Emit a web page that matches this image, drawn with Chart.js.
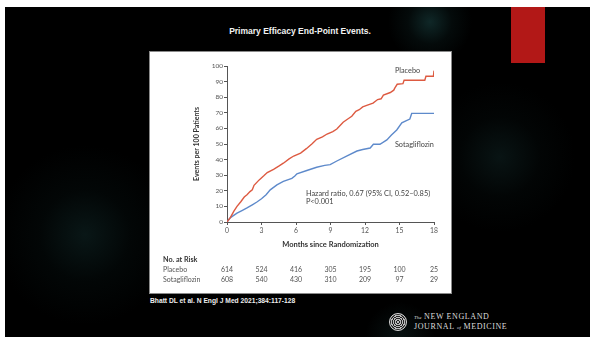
<!DOCTYPE html>
<html>
<head>
<meta charset="utf-8">
<script src="https://cdn.jsdelivr.net/npm/chart.js@4/dist/chart.umd.min.js"></script>
<style>
  html, body { margin: 0; padding: 0; background: #fff; width: 590px; height: 337px; overflow: hidden; }
  #slide {
    position: absolute; left: 5px; top: 7px; width: 585px; height: 330px;
    background:
      radial-gradient(circle at 425px 15px, rgba(18,46,46,0.85) 0, rgba(10,26,26,0.4) 22px, rgba(0,0,0,0) 42px),
      radial-gradient(circle at 80px 228px, rgba(12,30,30,0.75) 0, rgba(6,16,16,0.4) 45px, rgba(0,0,0,0) 90px),
      radial-gradient(circle at 495px 150px, rgba(12,28,28,0.7) 0, rgba(6,14,14,0.35) 40px, rgba(0,0,0,0) 75px),
      radial-gradient(circle at 395px 330px, rgba(12,28,28,0.6) 0, rgba(0,0,0,0) 35px),
      #000;
  }
  #redbar { position: absolute; left: 511px; top: 7px; width: 34px; height: 56px; background: #b21817; }
  #title {
    position: absolute; left: 0; width: 600px; top: 26px; text-align: center;
    font: bold 8.5px "Liberation Sans", Arial, sans-serif; color: #f2f2f2;
  }
  #panel {
    position: absolute; left: 149px; top: 51px; width: 301px; height: 241px;
    border: 1px solid #8a8a8a; background: #fff;
  }
  #panel canvas { display: block; }
  #cite {
    position: absolute; left: 150px; top: 297px;
    font: bold 6.7px "Liberation Sans", Arial, sans-serif; color: #eee; white-space: nowrap;
  }
  #seal {
    position: absolute; left: 389px; top: 313px; width: 16px; height: 16px; border-radius: 50%;
    border: 1px solid #d8d8d8;
    background: repeating-radial-gradient(circle at 50% 50%, #bbb 0, #bbb 1px, #222 1px, #222 2px);
  }
  #nejm {
    position: absolute; left: 414px; top: 312px; color: #ddd;
    font: 8px "Liberation Serif", "DejaVu Serif", serif; letter-spacing: 0.6px; line-height: 9px; white-space: nowrap;
  }
  #nejm i { font-size: 5px; letter-spacing: 0; }
</style>
</head>
<body>
<div id="slide"></div>
<div id="redbar"></div>
<div id="title">Primary Efficacy End-Point Events.</div>
<div id="panel"><canvas id="chart" width="301" height="241"></canvas></div>
<div id="cite">Bhatt DL et al. N Engl J Med 2021;384:117-128</div>
<div id="seal"></div>
<div id="nejm"><i>The</i> NEW ENGLAND<br>JOURNAL <i>of</i> MEDICINE</div>
<script>
// Cumulative events per 100 patients, by months since randomization
const placeboMonths = [0, 0.3, 0.6, 0.87, 1.2, 1.5, 1.74, 2.0, 2.2, 2.35, 2.8, 3.2, 3.5, 4.05, 4.5, 4.9, 5.4, 5.8, 6.4, 6.9, 7.4, 7.8, 8.3, 8.7, 9.2, 9.55, 10.1, 10.5, 10.85, 11.2, 11.5, 11.8, 12.15, 12.7, 13.1, 13.4, 13.6, 14.2, 14.5, 14.6, 14.8, 15.3, 15.4, 17.2, 17.3, 17.95, 18];
const placeboEvents = [0, 3, 7, 10, 13, 16, 17.5, 19.5, 20.6, 23.5, 27, 29.6, 31.7, 33.8, 35.8, 37.7, 40.5, 42.3, 44.2, 47, 50.2, 53, 54.6, 56.4, 58, 59.6, 64, 66, 67.8, 71, 72, 73.8, 74.8, 76.2, 78.5, 79, 81.3, 83, 84.5, 86, 88.3, 88.7, 90.9, 90.9, 93.4, 93.4, 97];

const sotaMonths = [0, 0.3, 0.87, 1.3, 1.74, 2.2, 2.6, 3.0, 3.4, 3.76, 4.34, 4.9, 5.64, 5.9, 6.08, 6.94, 7.8, 8.5, 8.97, 9.55, 10.4, 11.3, 11.8, 12.45, 12.73, 13.3, 13.9, 14.3, 14.76, 15.2, 15.6, 15.9, 16.06, 18];
const sotaEvents = [0, 2.8, 5.7, 7.3, 9, 11, 12.8, 14.9, 17.5, 20.6, 23.8, 26, 28, 29.5, 30.9, 33, 35.1, 36.3, 36.8, 39.1, 42.3, 45.5, 46.5, 47.4, 49.8, 49.8, 52.6, 55.7, 59, 63.6, 65, 66, 69.6, 69.6];

// Number at risk table
const riskMonths = [0, 3, 6, 9, 12, 15, 18];
const riskPlacebo = [614, 524, 416, 305, 195, 100, 25];
const riskSota = [608, 540, 430, 310, 209, 97, 29];

const seriesNames = ['Placebo', 'Sotagliflozin'];
const statsLines = ['Hazard ratio, 0.67 (95% CI, 0.52\u20130.85)', 'P<0.001'];

const toPoints = (xs, ys) => xs.map((x, i) => ({ x: x, y: ys[i] }));

Chart.defaults.font.family = 'Lato, "Open Sans", sans-serif';

const annotations = {
  id: 'annotations',
  afterDatasetsDraw(chart) {
    const { ctx, scales: { x, y } } = chart;
    ctx.save();
    ctx.fillStyle = '#444';
    ctx.font = '7.3px Lato, sans-serif';
    ctx.textBaseline = 'middle';
    ctx.textAlign = 'left';
    // series names beside their curves
    ctx.fillText(seriesNames[0], x.getPixelForValue(14.6), y.getPixelForValue(96.8));
    ctx.fillText(seriesNames[1], x.getPixelForValue(14.6), y.getPixelForValue(49.8));
    // hazard ratio
    ctx.font = '7.4px Lato, sans-serif';
    ctx.fillText(statsLines[0], x.getPixelForValue(6.86), y.getPixelForValue(18.1));
    ctx.fillText(statsLines[1], x.getPixelForValue(6.86), y.getPixelForValue(13.1));

    // number at risk
    const left = 13;
    ctx.fillStyle = '#333';
    ctx.font = 'bold 7.2px Lato, sans-serif';
    ctx.fillText('No. at Risk', left, 208);
    ctx.fillStyle = '#555';
    ctx.font = '7px Lato, sans-serif';
    ctx.fillText(seriesNames[0], left, 218);
    ctx.fillText(seriesNames[1], left, 227.5);
    ctx.textAlign = 'center';
    riskMonths.forEach((m, i) => {
      const px = x.getPixelForValue(m);
      ctx.fillText(String(riskPlacebo[i]), px, 218);
      ctx.fillText(String(riskSota[i]), px, 227.5);
    });
    ctx.restore();
  }
};

const axisColor = '#555';

new Chart(document.getElementById('chart'), {
  type: 'line',
  data: {
    datasets: [
      {
        label: seriesNames[0],
        data: toPoints(placeboMonths, placeboEvents),
        borderColor: '#dd5a41',
        borderWidth: 1.4,
        pointRadius: 0,
        tension: 0,
        fill: false
      },
      {
        label: seriesNames[1],
        data: toPoints(sotaMonths, sotaEvents),
        borderColor: '#5e8acb',
        borderWidth: 1.4,
        pointRadius: 0,
        tension: 0,
        fill: false
      }
    ]
  },
  options: {
    responsive: false,
    animation: false,
    devicePixelRatio: 1,
    layout: { padding: { top: 14, right: 17, bottom: 0, left: 0 } },
    plugins: {
      legend: { display: false },
      tooltip: { enabled: false },
      title: { display: false }
    },
    scales: {
      x: {
        type: 'linear',
        min: 0,
        max: 18,
        afterFit: (s) => { s.height = 71; },
        border: { color: axisColor, width: 1 },
        grid: { drawOnChartArea: false, drawTicks: true, tickLength: 3, tickColor: axisColor },
        ticks: {
          stepSize: 3,
          maxRotation: 0,
          autoSkip: false,
          padding: 2,
          color: '#555',
          font: { size: 6.8 }
        },
        title: {
          display: true,
          text: 'Months since Randomization',
          color: '#333',
          font: { size: 7.5, weight: 'bold' },
          padding: { top: 0, bottom: 44 }
        }
      },
      y: {
        min: 0,
        max: 100,
        afterFit: (s) => { s.width = 77; },
        border: { color: axisColor, width: 1 },
        grid: { drawOnChartArea: false, drawTicks: true, tickLength: 3, tickColor: axisColor },
        ticks: {
          stepSize: 10,
          padding: 1,
          color: '#555',
          font: { size: 6.5 }
        },
        title: {
          display: true,
          text: 'Events per 100 Patients',
          color: '#333',
          font: { size: 7, weight: 'bold' },
          padding: { top: 43, bottom: 0 }
        }
      }
    }
  },
  plugins: [annotations]
});
</script>
</body>
</html>
